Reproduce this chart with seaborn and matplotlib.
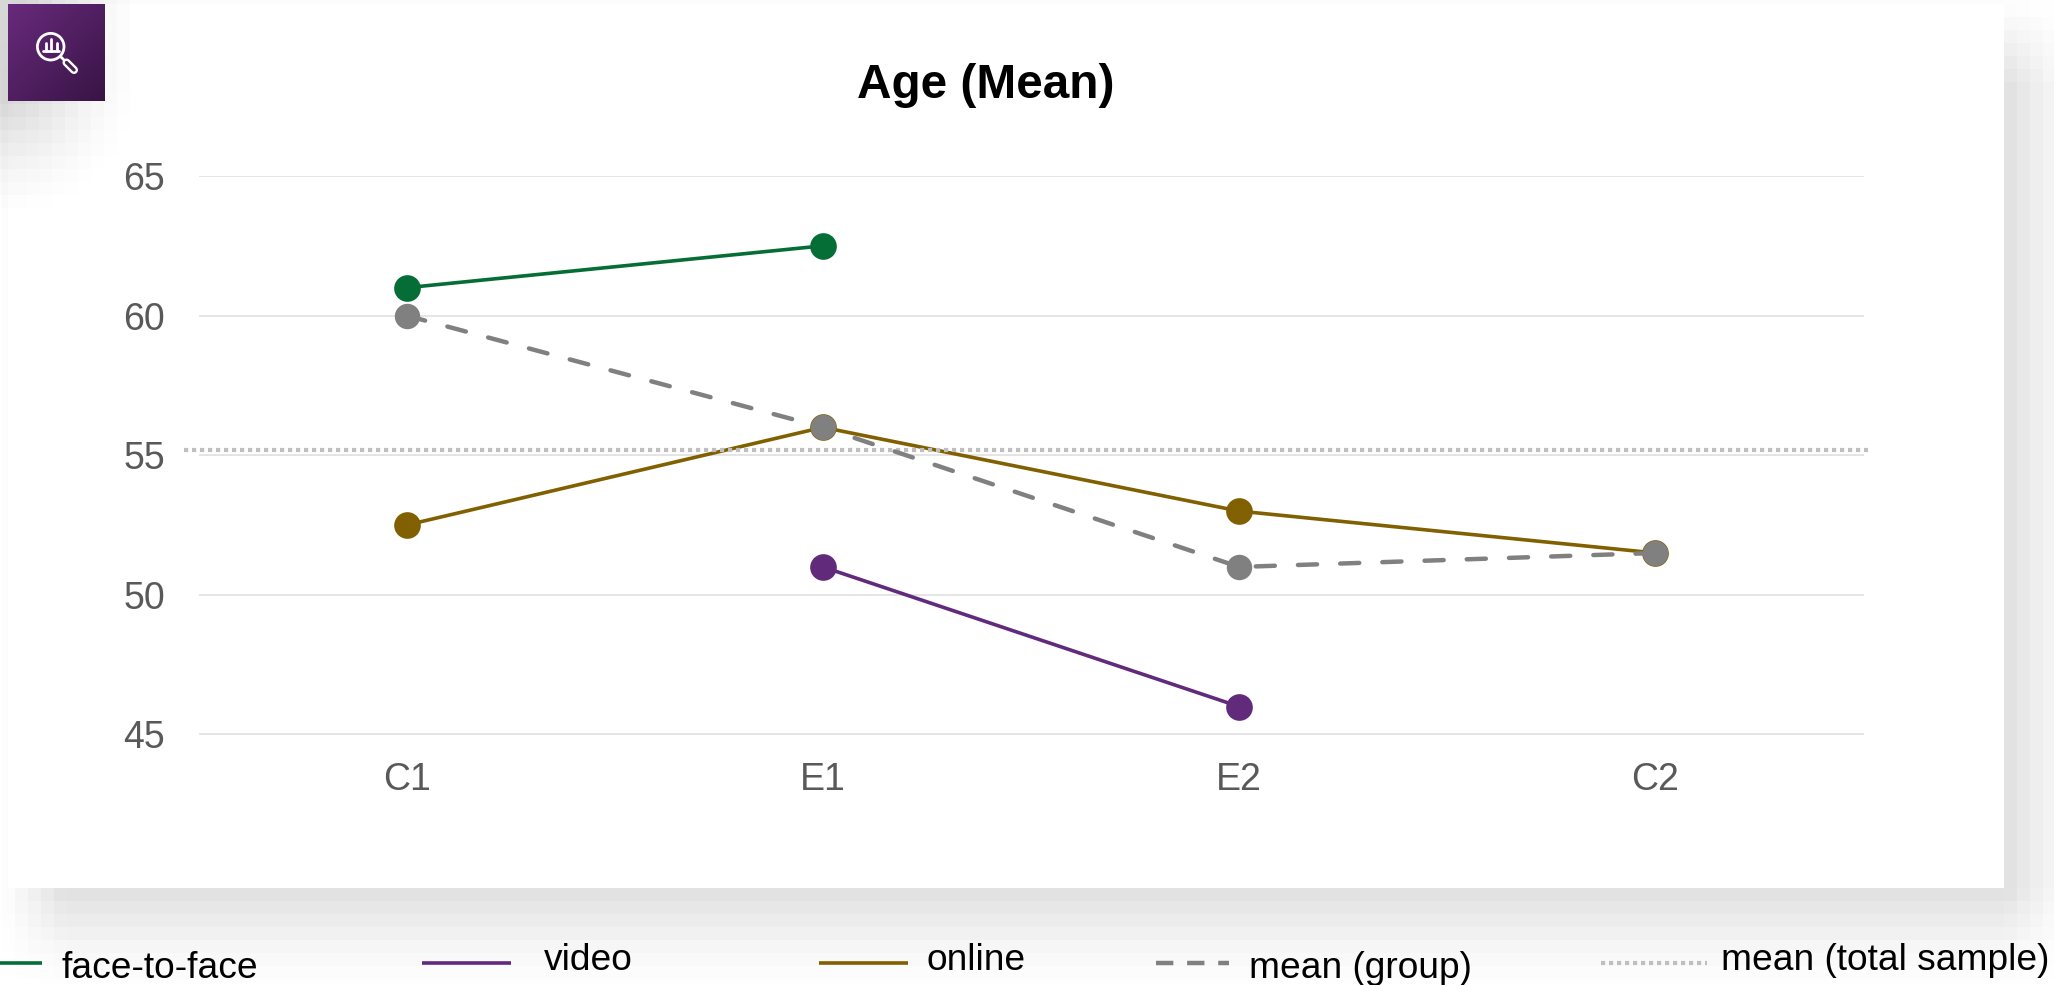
import numpy as np
import pandas as pd
import matplotlib
matplotlib.use("Agg")
import matplotlib.pyplot as plt
from matplotlib.patches import Circle, Rectangle
from matplotlib.lines import Line2D
import seaborn as sns

# Chart values
stages = ["C1", "E1", "E2", "C2"]
face_to_face = [61.0, 62.5, np.nan, np.nan]
video = [np.nan, 51.0, 46.0, np.nan]
online = [52.5, 56.0, 53.0, 51.5]
mean_group = [60.0, 56.0, 51.0, 51.5]
mean_total = 55.2
y_ticks = [45, 50, 55, 60, 65]
series_names = ["face-to-face", "video", "online", "mean (group)"]
series_colors = ["#056e37", "#612a7b", "#806000", "#808080"]

W, H = 2054, 985
sns.set_theme(style="white")
plt.rcParams["font.family"] = ["Liberation Sans", "DejaVu Sans"]

fig = plt.figure(figsize=(W / 100, H / 100), dpi=100, facecolor="white")

# Full-figure layer in pixel units for the card, its shadow, icon and legend
page = fig.add_axes([0, 0, 1, 1], zorder=0)
page.axis("off")

# Soft, blocky drop shadow behind the card
xs = ((np.arange(W) - 2004) // 13) * 13 + 2004 + 6
ys = ((np.arange(H) - 888) // 13) * 13 + 888 + 6
fx = np.interp(xs, [0, 65, 2004, 2054], [0.0, 1.0, 1.0, 0.27])
fy = np.interp(ys, [9, 85, 888, 951, 985], [0.1, 1.0, 1.0, 0.24, 0.05])
shade = np.outer(fy, fx) * 32
page.imshow(np.clip(255 - shade, 0, 255) / 255, cmap="gray", vmin=0, vmax=1,
            extent=[0, W, H, 0], interpolation="nearest", aspect="auto", zorder=0)
page.add_patch(Rectangle((8, 4), 1996, 884, fc="white", ec="none", zorder=1))

# Shadow cast by the icon onto the card, as translucent black
xg, yg = np.meshgrid((np.arange(170) // 13) * 13 + 6, (np.arange(240) // 13) * 13 + 6)
dist = np.hypot(xg / 145, np.maximum(yg - 70, 0) / 150)
icon_alpha = np.minimum(np.clip(1 - dist, 0, 1) ** 1.5 * 55, 40) / 255
icon_rgba = np.zeros(icon_alpha.shape + (4,))
icon_rgba[..., 3] = icon_alpha
page.imshow(icon_rgba, extent=[0, 170, 240, 0], interpolation="nearest", aspect="auto", zorder=2)

# Icon tile with a diagonal purple gradient
gx, gy = np.meshgrid(np.linspace(0, 1, 97), np.linspace(0, 1, 97))
t = ((gx + gy) / 2)[..., None]
tile = (1 - t) * np.array([0x68, 0x2a, 0x7c]) / 255 + t * np.array([0x38, 0x14, 0x45]) / 255
page.imshow(tile, extent=[8, 105, 101, 4], interpolation="bilinear", aspect="auto", zorder=3)
page.add_patch(Circle((50.7, 46.7), 13.3, fc="none", ec="white", lw=2, zorder=4))
page.plot([61, 66], [57, 62], color="white", lw=2, zorder=4)
page.plot([66.5, 74], [62.5, 70], color="white", lw=5.8, solid_capstyle="round", zorder=4)
page.plot([66.5, 74], [62.5, 70], color="#4a1f5a", lw=2.4, solid_capstyle="round", zorder=5)
page.plot([43, 59], [50.7, 50.7], color="white", lw=2, zorder=4)
for bx, top in [(46, 43.3), (51, 39.3), (56.5, 43.3)]:
    page.plot([bx, bx], [50.7, top], color="white", lw=2, zorder=4)
page.set_xlim(0, W)
page.set_ylim(H, 0)

# Main plot area
ax = fig.add_axes([198.5 / W, 1 - 734.5 / H, (1863.5 - 198.5) / W, (734.5 - 176) / H], zorder=2)
ax.patch.set_alpha(0)
frame = pd.DataFrame({
    "stage": stages * 4,
    "age": face_to_face + video + online + mean_group,
    "group": np.repeat(series_names, 4),
})
for name, color in zip(series_names, series_colors):
    sub = frame[frame["group"] == name].dropna()
    is_mean = name == "mean (group)"
    sns.lineplot(data=sub, x="stage", y="age", color=color, lw=3.2 if is_mean else 2.6,
                 ax=ax, sort=False, marker="o", markersize=18.3 if is_mean else 19.2,
                 markeredgewidth=0, errorbar=None, clip_on=False, zorder=6 if is_mean else 4)
    if is_mean:
        ax.lines[-1].set_linestyle((0, (4.3, 5.2)))
        ax.lines[-1].set_dash_capstyle("round")

ax.set_xticks(range(4), stages)
ax.set_xlim(-0.5, 3.5)
ax.set_ylim(45, 65)
ax.set_yticks(y_ticks)
ax.set_xlabel("")
ax.set_ylabel("")
ax.grid(axis="y", color="#e0e0e0", lw=1.2)
ax.set_axisbelow(True)
sns.despine(ax=ax, left=True, bottom=True)
ax.tick_params(axis="both", length=0, labelsize=27, labelcolor="#595959")
ax.tick_params(axis="y", pad=24)
ax.tick_params(axis="x", pad=19.5)
for tick_label in ax.get_yticklabels():
    tick_label.set_verticalalignment("center_baseline")

# Total-sample mean runs slightly past the grid
ax.plot([-0.535, 3.51], [mean_total, mean_total], color="#bfbfbf", lw=3.0,
        ls=(0, (1, 0.92)), dash_capstyle="butt", clip_on=False, zorder=5)

# Title and hand-placed legend row
page.text(986, 86, "Age (Mean)", fontsize=34.4, fontweight="bold", color="black",
          ha="center", va="center", zorder=6)
legend_items = [
    (0, 42, series_colors[0], "-", 2.6, 61, 978, series_names[0]),
    (422, 511, series_colors[1], "-", 2.6, 544, 970, series_names[1]),
    (819, 908, series_colors[2], "-", 2.6, 927, 970, series_names[2]),
    (1156, 1229, series_colors[3], (0, (3.9, 3.1)), 3.2, 1249, 977.5, series_names[3]),
    (1601, 1707, "#bfbfbf", (0, (1, 0.92)), 3.0, 1721, 970, "mean (total sample)"),
]
for x0, x1, color, ls, lw, tx, ty, label in legend_items:
    page.add_line(Line2D([x0, x1], [963, 963], color=color, lw=lw, ls=ls,
                         solid_capstyle="butt", dash_capstyle="butt", zorder=6))
    page.text(tx, ty, label, fontsize=26.7, color="black", ha="left", va="baseline", zorder=6)

fig.savefig("out.png", dpi=100)
